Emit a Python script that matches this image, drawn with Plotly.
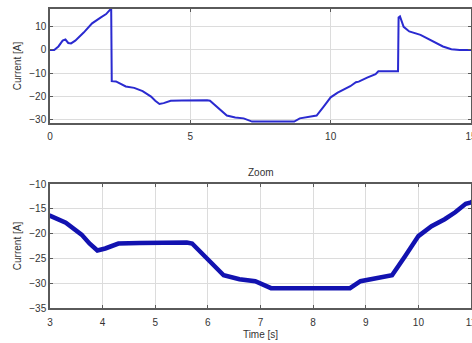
import plotly.graph_objects as go

time_s = [0, 0.15, 0.3, 0.45, 0.55, 0.65, 0.75, 0.9, 1.2, 1.5, 1.8, 2.0, 2.15, 2.18, 2.2,
          2.35, 2.7, 3.0, 3.3, 3.6, 3.75, 3.9, 4.05, 4.3, 4.7, 5.0, 5.6, 5.7, 6.0, 6.3,
          6.6, 6.9, 7.2, 7.6, 8.0, 8.4, 8.7, 8.9, 9.2, 9.5, 9.75, 10.0, 10.25, 10.5, 10.7,
          10.9, 11.0, 11.3, 11.6, 11.7, 12.4, 12.42, 12.47, 12.6, 12.8, 13.2, 13.6, 14.0,
          14.3, 14.6, 15.0]
current_a = [0, 0, 1.5, 4, 4.5, 3, 2.8, 4, 7.5, 11.5, 14, 15.5, 17.5, 18, -13.5,
             -13.6, -15.8, -16.4, -17.8, -20.2, -22, -23.4, -23, -22, -21.9, -21.8, -21.8, -22, -25.3, -28.4,
             -29.2, -29.6, -31, -31, -31, -31.1, -31, -29.6, -29.1, -28.4, -24.5, -20.5, -18.5, -17.1, -15.7,
             -14, -13.7, -12, -10.5, -9.2, -9.2, 14, 14.5, 10, 8, 6.5, 4, 1.5,
             0.3, 0, 0]

top_xticks = [0, 5, 10, 15]
top_yticks = [10, 0, -10, -20, -30]
zoom_xticks = [3, 4, 5, 6, 7, 8, 9, 10, 11]
zoom_yticks = [-10, -15, -20, -25, -30, -35]

W, H = 472, 343
fig = go.Figure()
fig.add_trace(go.Scatter(x=time_s, y=current_a, mode="lines",
                         line=dict(color="#2a2ad0", width=2), xaxis="x", yaxis="y",
                         showlegend=False))
fig.add_trace(go.Scatter(x=time_s, y=current_a, mode="lines",
                         line=dict(color="#1212b0", width=4.5), xaxis="x2", yaxis="y2",
                         showlegend=False))

font = dict(family="Liberation Sans, Arial, sans-serif", size=10, color="#333333")
axcommon = dict(showline=True, linecolor="#5a5a5a", linewidth=1.5, mirror="ticks",
                ticks="inside", ticklen=3, tickcolor="#5a5a5a", showgrid=True,
                gridcolor="#dcdcdc", gridwidth=1, zeroline=False, tickfont=font,
                ticklabeloverflow="allow", automargin=False)
xd = [50 / W, 471 / W]
tfont = dict(size=10, color="#333")
fig.update_layout(
    width=W, height=H, margin=dict(l=0, r=0, t=0, b=0),
    paper_bgcolor="white", plot_bgcolor="white", font=font,
    xaxis=dict(domain=xd, range=[0, 15], tickvals=top_xticks, anchor="y",
               ticklabelstandoff=3, **axcommon),
    yaxis=dict(domain=[1 - 123 / H, 1 - 9 / H], range=[-31.6, 17.7], tickvals=top_yticks,
               anchor="x", title=dict(text="Current [A]", font=tfont, standoff=6),
               **axcommon),
    xaxis2=dict(domain=xd, range=[3, 11], tickvals=zoom_xticks, anchor="y2", ticklabelstandoff=4,
                title=dict(text="Time [s]", font=tfont, standoff=4), **axcommon),
    yaxis2=dict(domain=[1 - 308 / H, 1 - 184 / H], range=[-35, -10], tickvals=zoom_yticks,
                anchor="x2", title=dict(text="Current [A]", font=tfont, standoff=6),
                **axcommon),
    annotations=[dict(text="Zoom", x=0.5 * (xd[0] + xd[1]), y=1 - 172 / H, xref="paper", yref="paper",
                      showarrow=False, font=tfont, xanchor="center", yanchor="middle")],
)
fig.write_html("out.html")
